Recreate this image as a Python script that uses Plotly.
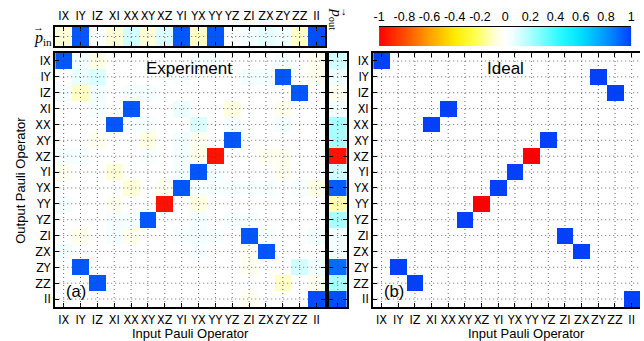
import numpy as np
import plotly.graph_objects as go

labels = ["IX", "IY", "IZ", "XI", "XX", "XY", "XZ", "YI", "YX", "YY", "YZ", "ZI", "ZX", "ZY", "ZZ", "II"]

# ideal map: output row -> input column and sign
ideal_col = [0, 13, 14, 4, 3, 10, 9, 8, 7, 6, 5, 11, 12, 1, 2, 15]
ideal_sign = [1, 1, 1, 1, 1, 1, -1, 1, 1, -1, 1, 1, 1, 1, 1, 1]

experiment = [
    [0.95, 0.05, -0.05, 0, 0, 0, 0, 0, 0.03, 0.03, 0, 0, 0, 0.04, 0, -0.03],
    [0, 0.07, 0.1, 0, 0, 0, 0, 0.03, 0, 0, 0, 0.05, 0.05, 0.95, 0, -0.04],
    [0.04, -0.1, 0.05, 0, 0.04, 0.04, 0, 0, 0, 0, 0, 0, 0, 0, 0.95, 0],
    [0, 0, 0.04, 0, 0.95, 0, 0, 0.07, 0, 0, -0.06, 0, 0, -0.04, 0, 0],
    [0, 0, 0, 0.95, 0.03, 0.03, 0, 0, 0.1, 0, 0.04, 0, 0, 0.05, 0, 0],
    [0, 0, -0.03, 0, 0, -0.06, 0, 0.05, -0.03, 0, 0.95, 0, 0, 0, 0, 0],
    [0.04, 0.04, 0, 0, 0, 0.03, 0, 0.05, -0.04, -0.95, 0, 0, -0.03, -0.03, 0, 0],
    [-0.03, 0, 0, -0.08, 0, 0, 0, 0.05, 0.95, 0.04, 0, 0, 0, -0.03, 0, 0],
    [0, 0, 0, 0, -0.08, 0, -0.03, 0.95, 0.03, 0.03, 0.03, 0.03, 0.03, 0, 0.03, -0.05],
    [0.04, 0, 0, -0.03, 0, 0, -0.95, 0, -0.06, 0, 0, 0, 0, 0, 0, 0],
    [0, 0, 0, 0.04, 0.04, 0.95, 0, 0, 0.04, 0, 0.03, 0.03, 0, 0, 0, 0],
    [0, -0.04, 0, 0.04, -0.04, 0, 0, 0.03, 0.05, 0.03, 0, 0.95, 0.03, 0, 0, 0.05],
    [0.05, 0, 0, 0, 0, 0, 0, 0, 0.03, 0, 0, -0.03, 0.95, 0, 0, 0],
    [0, 0.95, 0, 0, 0, 0, 0, 0, 0, 0, 0, -0.03, 0, 0, 0.12, 0.05],
    [0, 0, 0.95, 0, 0, 0, 0, 0, 0, 0, 0, 0, 0, -0.1, 0, -0.03],
    [0, 0, 0, 0, 0, 0, 0, 0, 0, 0, 0, -0.03, 0, 0, 0, 0.97],
]

p_in = [-0.08, 0.95, 0.02, -0.08, 0.12, -0.08, 0.1, 0.95, -0.1, 0.95, 0.01, 0.04, 0.08, 0.06, -0.1, 0.97]
p_out = [0.12, 0.06, -0.03, 0.05, 0.2, 0.2, -0.95, 0.12, 0.93, -0.12, 0.2, 0.05, 0.05, 0.9, 0.2, 0.97]

cbar_ticks = [-1, -0.8, -0.6, -0.4, -0.2, 0, 0.2, 0.4, 0.6, 0.8, 1]
cbar_text = ["-1", "-0.8", "-0.6", "-0.4", "-0.2", "0", "0.2", "0.4", "0.6", "0.8", "1"]

ideal = [[0.0] * 16 for _ in range(16)]
for r, (c, s) in enumerate(zip(ideal_col, ideal_sign)):
    ideal[r][c] = float(s)

W, H = 644, 341
def px(x): return x / W
def py(y): return 1 - y / H

cs = [
    [0.0, 'rgb(255,0,0)'],
    [0.1, 'rgb(255,75,0)'],
    [0.2, 'rgb(255,160,0)'],
    [0.3, 'rgb(255,235,0)'],
    [0.38, 'rgb(255,255,80)'],
    [0.46, 'rgb(255,255,215)'],
    [0.5, 'rgb(255,255,255)'],
    [0.53, 'rgb(240,255,255)'],
    [0.6, 'rgb(170,255,255)'],
    [0.72, 'rgb(40,250,255)'],
    [0.8, 'rgb(0,225,255)'],
    [0.9, 'rgb(0,150,255)'],
    [1.0, 'rgb(0,64,255)'],
]

FONT = "Liberation Sans, Arial, sans-serif"
NARROW = "Liberation Sans Narrow, DejaVu Sans Condensed, Liberation Sans, sans-serif"
SERIF = "Liberation Serif, DejaVu Serif, serif"
fig = go.Figure()
hm = dict(colorscale=cs, zmin=-1, zmax=1, showscale=False, hoverinfo='skip')
fig.add_trace(go.Heatmap(z=experiment, x=labels, y=labels, xaxis='x', yaxis='y', **hm))
fig.add_trace(go.Heatmap(z=[p_in], x=labels, y=[0], xaxis='x2', yaxis='y2', **hm))
fig.add_trace(go.Heatmap(z=[[v] for v in p_out], x=[0], y=labels, xaxis='x3', yaxis='y3', **hm))
fig.add_trace(go.Heatmap(z=ideal, x=labels, y=labels, xaxis='x4', yaxis='y4', **hm))
cb_x = np.linspace(-1, 1, 300)
fig.add_trace(go.Heatmap(z=[cb_x], x=cb_x, y=[0], xaxis='x5', yaxis='y5', **hm))

tickfont = dict(family=NARROW, size=12.5, color='black')
base = dict(showgrid=False, zeroline=False, showline=True, linecolor='black', linewidth=2,
            ticks='inside', ticklen=4, tickcolor='black', tickwidth=1, layer='above traces',
            tickfont=tickfont, fixedrange=True, tickangle=0)

hy = [py(307), py(53)]
lay = dict(
    width=W, height=H, margin=dict(l=0, r=0, t=0, b=0),
    paper_bgcolor='white', plot_bgcolor='white', showlegend=False,
    xaxis=dict(base, domain=[px(50), px(324)], anchor='y', type='category', range=[-0.5, 15.5], mirror='ticks'),
    yaxis=dict(base, domain=hy, anchor='x', type='category', range=[15.5, -0.5], mirror='ticks'),
    xaxis2=dict(base, domain=[px(50), px(324)], anchor='y2', type='category', range=[-0.5, 15.5], side='top', mirror='ticks'),
    yaxis2=dict(base, domain=[py(46), py(27)], anchor='x2', range=[-0.5, 0.5], showticklabels=False, tickvals=[0], mirror='ticks'),
    xaxis3=dict(base, domain=[px(328), px(346)], anchor='y3', range=[-0.5, 0.5], showticklabels=False, tickvals=[0], mirror='ticks'),
    yaxis3=dict(base, domain=hy, anchor='x3', type='category', range=[15.5, -0.5], showticklabels=False, mirror='ticks'),
    xaxis4=dict(base, domain=[px(373), 1.0], anchor='y4', type='category', range=[-0.5, 15.5], mirror='ticks'),
    yaxis4=dict(base, domain=hy, anchor='x4', type='category', range=[15.5, -0.5], mirror=False),
    xaxis5=dict(domain=[px(379), px(635)], anchor='y5', range=[-1, 1], side='top', showline=True, linecolor='black',
                linewidth=1, showgrid=False, zeroline=False, ticks='', tickvals=cbar_ticks, ticktext=cbar_text,
                tickangle=0, tickfont=dict(family=FONT, size=12.5, color='black'), fixedrange=True),
    yaxis5=dict(domain=[py(46), py(27)], anchor='x5', range=[-0.5, 0.5], visible=False, fixedrange=True),
)
fig.update_layout(**lay)

# dotted grid lines at category centers (drawn above the cells)
shapes = []
gl = dict(color='rgba(70,70,70,0.8)', width=1, dash='1px,3px')
for xr, yr in [('x', 'y'), ('x4', 'y4')]:
    for lab in labels:
        shapes.append(dict(type='line', xref=xr, yref=yr, x0=lab, x1=lab, y0=-0.5, y1=15.5, line=gl, layer='above'))
        shapes.append(dict(type='line', xref=xr, yref=yr, x0=-0.5, x1=15.5, y0=lab, y1=lab, line=gl, layer='above'))
for lab in labels:
    shapes.append(dict(type='line', xref='x2', yref='y2', x0=lab, x1=lab, y0=-0.5, y1=0.5, line=gl, layer='above'))
    shapes.append(dict(type='line', xref='x3', yref='y3', x0=-0.5, x1=0.5, y0=lab, y1=lab, line=gl, layer='above'))
shapes.append(dict(type='line', xref='x2', yref='y2', x0=-0.5, x1=15.5, y0=0, y1=0, line=gl, layer='above'))
shapes.append(dict(type='line', xref='x3', yref='y3', x0=0, x1=0, y0=-0.5, y1=15.5, line=gl, layer='above'))
fig.update_layout(shapes=shapes)

ann = []
def A(text, x, y, size, **kw):
    d = dict(text=text, x=px(x), y=py(y), xref='paper', yref='paper', showarrow=False,
             font=dict(family=kw.pop('family', FONT), size=size, color='black'), xanchor='center', yanchor='middle')
    d.update(kw)
    ann.append(d)

A("Experiment", 186, 68, 17)
A("Ideal", 507, 68, 17)
A("(a)", 71, 291, 16.5)
A("(b)", 394, 291, 16.5)
A("Input Pauli Operator", 187, 333, 13)
A("Input Pauli Operator", 529, 333, 13)
A("Output Pauli Operator", 14, 180, 13, textangle=-90)
# p_in label: italic p with vector arrow above
A("<i>p</i><sub>in</sub>", 38, 38, 16, family=SERIF)
A("\u2192", 33, 27, 11, family=SERIF)
# p_out label, rotated
A("<i>p</i><sub>out</sub>", 335, 19, 15, family=SERIF, textangle=90)
A("\u2192", 344, 12, 10, family=SERIF, textangle=90)
fig.update_layout(annotations=ann)

fig.write_html("out.html")
